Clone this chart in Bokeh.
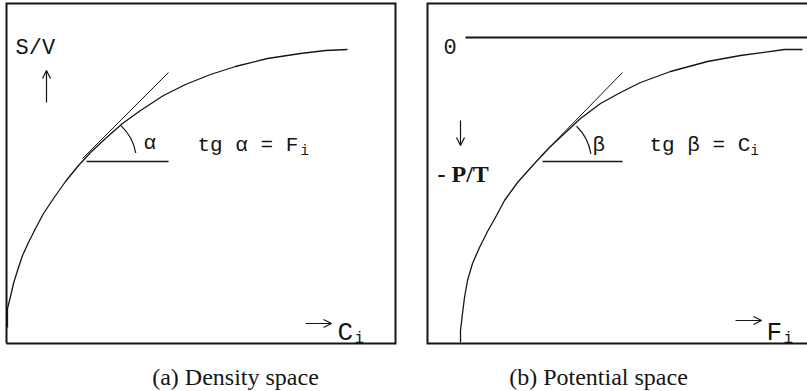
from bokeh.plotting import figure
from bokeh.layouts import row
from bokeh.models import Range1d, Label, Arrow, OpenHead
from bokeh.embed import file_html
from bokeh.resources import INLINE

# (a) density space: S/V as a function of C_i (diagram units)
density_c = [1, 1, 4, 7, 11, 16, 22, 29, 37, 47, 59, 72, 84, 99, 116, 134,
             157, 179, 204, 229, 261, 294, 319, 341]
density_sv = [16, 35, 47, 60, 73, 88, 101, 115, 130, 145, 162, 178, 191, 205,
              220, 233, 248, 259, 269, 277, 285, 290, 293, 294]
density_tangent_x = [76, 162]
density_tangent_y = [185, 271]
density_base_x = [80, 162]
density_base_y = [182, 182]
density_angle = [10, 47]   # degrees, arc marking alpha

# (b) potential space: -P/T as a function of F_i (diagram units)
potential_f = [33, 33, 35, 37, 40, 45, 52, 60, 69, 77, 90, 107, 122, 138, 153,
               173, 193, 213, 243, 280, 313, 357, 375]
potential_pt = [1, 13, 30, 46, 63, 80, 96, 112, 128, 143, 161, 180, 196, 211,
                225, 240, 251, 261, 272, 282, 288, 294, 294]
potential_zero_x = [38, 382]
potential_zero_y = [306, 306]
potential_tangent_x = [113, 195]
potential_tangent_y = [187, 271]
potential_base_x = [115, 195]
potential_base_y = [182, 182]
potential_angle = [9, 46]  # degrees, arc marking beta

# panel boxes in diagram units
box_w, box_h = 389, 340

INK = "#151515"
MONO = "Liberation Mono"
SERIF = "Liberation Serif"


def panel(width, x0, x1):
    p = figure(width=width, height=391,
               x_range=Range1d(x0, x1), y_range=Range1d(-48, 343),
               x_axis_type=None, y_axis_type=None,
               min_border=0, outline_line_color=None,
               output_backend="svg", toolbar_location=None)
    p.grid.visible = False
    p.background_fill_color = "white"
    p.border_fill_color = "white"
    return p


def label(p, x, y, text, size, font=MONO, style="normal", align="left",
          baseline="alphabetic"):
    p.add_layout(Label(x=x, y=y, text=text, text_font=font,
                       text_font_size=size, text_font_style=style,
                       text_color=INK, text_align=align,
                       text_baseline=baseline))


def arrow(p, x0, y0, x1, y1):
    p.add_layout(Arrow(end=OpenHead(size=8, line_width=1.2, line_color=INK),
                       x_start=x0, y_start=y0, x_end=x1, y_end=y1,
                       line_width=1.2, line_color=INK))


# ---- left panel ----
left = panel(416, -6, 410)
left.line([0, box_w, box_w, 0, 0], [0, 0, box_h, box_h, 0],
          line_color=INK, line_width=2, line_join="miter")

left.line(density_c, density_sv, line_color=INK, line_width=1.3)
left.line(density_tangent_x, density_tangent_y, line_color=INK, line_width=1)
left.line(density_base_x, density_base_y, line_color=INK, line_width=1.5)
left.arc(x=[density_base_x[0] + 1], y=[density_base_y[0]], radius=49,
         start_angle=density_angle[0], end_angle=density_angle[1],
         start_angle_units="deg", end_angle_units="deg",
         line_color=INK, line_width=1.2)

label(left, 9, 295, "S/V", "22px")
arrow(left, 40, 241, 40, 273)
label(left, 137, 200, "α", "21px")
label(left, 191, 198, "tg α = F", "21px")
label(left, 294, 193, "i", "14px")
arrow(left, 299, 20, 325, 20)
label(left, 331, 11, "C", "26px")
label(left, 348, 5, "i", "16px")
label(left, 229, -33, "(a) Density space", "24px", font=SERIF,
      align="center", baseline="middle")

# ---- right panel ----
right = panel(391, -11, 380)
right.line([box_w, 0, 0, box_w], [box_h, box_h, 0, 0],
           line_color=INK, line_width=2, line_join="miter")

right.line(potential_zero_x, potential_zero_y, line_color=INK, line_width=1.8)
right.line(potential_f, potential_pt, line_color=INK, line_width=1.3)
right.line(potential_tangent_x, potential_tangent_y, line_color=INK,
           line_width=1)
right.line(potential_base_x, potential_base_y, line_color=INK, line_width=1.5)
right.arc(x=[potential_base_x[0]], y=[potential_base_y[0]], radius=49,
          start_angle=potential_angle[0], end_angle=potential_angle[1],
          start_angle_units="deg", end_angle_units="deg",
          line_color=INK, line_width=1.2)

label(right, 16, 297, "0", "22px")
arrow(right, 33, 223, 33, 198)
label(right, 10, 170, "- P/T", "24px", font=SERIF, style="bold")
label(right, 165, 198, "β", "21px")
label(right, 222, 198, "tg β = C", "21px")
label(right, 323, 193, "i", "14px")
arrow(right, 308, 23, 334, 23)
label(right, 339, 11, "F", "26px")
label(right, 356, 5, "i", "16px")
label(right, 171, -33, "(b) Potential space", "24px", font=SERIF,
      align="center", baseline="middle")

layout = row(left, right)
open("out.html", "w").write(file_html(layout, INLINE))
